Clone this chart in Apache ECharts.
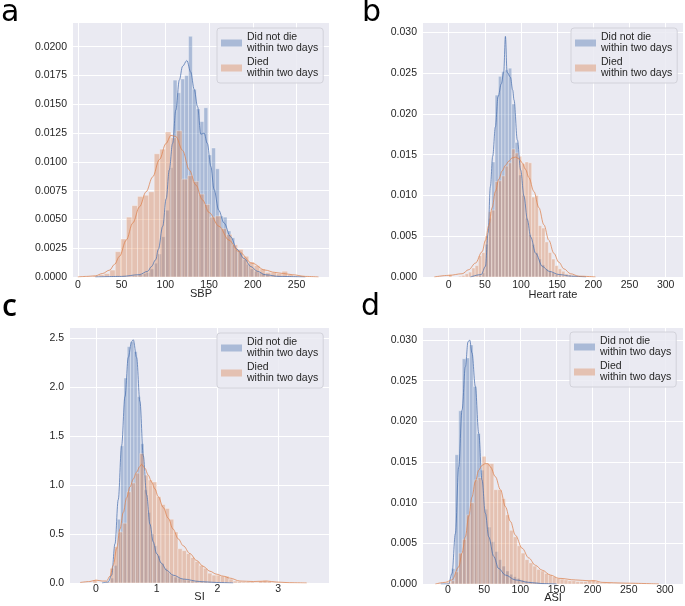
<!DOCTYPE html>
<html><head><meta charset="utf-8">
<script src="https://cdn.jsdelivr.net/npm/echarts@6/dist/echarts.min.js"></script>
<style>html,body{margin:0;padding:0;background:#fff}#c{width:685px;height:606px}</style>
</head><body><div id="c"></div>
<script>
// ---------- labels ----------
const legendNames = ['Did not die\nwithin two days', 'Died\nwithin two days'];
const axisNames = ['SBP', 'Heart rate', 'SI', 'ASI'];
const panelLetters = ['a', 'b', 'c', 'd'];

// ---------- tick values ----------
const aXTicks = [0, 50, 100, 150, 200, 250];
const aYTicks = [0, 0.0025, 0.005, 0.0075, 0.01, 0.0125, 0.015, 0.0175, 0.02];
const bXTicks = [0, 50, 100, 150, 200, 250, 300];
const bYTicks = [0, 0.005, 0.01, 0.015, 0.02, 0.025, 0.03];
const cXTicks = [0, 1, 2, 3];
const cYTicks = [0, 0.5, 1, 1.5, 2, 2.5];
const dXTicks = [0, 50, 100, 150, 200, 250, 300];
const dYTicks = [0, 0.005, 0.01, 0.015, 0.02, 0.025, 0.03];

// ---------- panel a : SBP ----------
const aBlueBinStart = 42.9, aBlueBinWidth = 4.4;
const aBlueHeights = [0.00003,0,0.00005,0.00005,0.0001,0.0001,0.0002,0.0003,0.0004,0.0007,0.0012,0.0020,0.0035,0.0058,0.0095,0.0171,0.0160,0.0172,0.0175,0.0209,0.0163,0.0146,0.0135,0.0147,0.0106,0.0112,0.0094,0.0053,0.0052,0.0040,0.0034,0.0024,0.0021,0.0015,0.0011,0.0007,0.0005,0.0004,0.0003,0.0002,0.0001,0.0001,0.0001,0.00005,0.00005,0.00003,0.00003,0,0.00003];
const aOrangeBinStart = 17.45, aOrangeBinWidth = 6.35;
const aOrangeHeights = [0.0001,0.0002,0.0003,0.0006,0.0022,0.0033,0.0052,0.0062,0.0070,0.0071,0.0074,0.0107,0.0111,0.0126,0.0121,0.0127,0.0085,0.0088,0.0083,0.0072,0.0063,0.0052,0.0053,0.0042,0.0037,0.0028,0.0024,0.0018,0.0013,0.0010,0.0007,0.0004,0.0004,0.0003,0.0005,0.0002,0.0001,0.0001];
const aBlueKde = [[20,0],[50,0.00005],[70,0.0002],[80,0.0005],[84,0.0009],[89,0.0015],[92,0.0024],[97,0.0044],[101,0.0068],[104.5,0.0093],[108.3,0.0116],[112,0.0145],[116,0.0171],[119.7,0.0183],[124.6,0.0188],[129,0.0178],[133,0.0163],[136.8,0.0148],[140.6,0.0124],[144.3,0.0125],[148,0.0116],[152,0.0096],[155.7,0.0076],[161,0.0058],[167,0.0047],[174.6,0.0035],[182,0.0024],[190,0.0016],[198,0.0009],[205,0.0005],[214,0.0002],[230,0.00005],[260,0]];
const aOrangeKde = [[0,0],[10,0.00005],[20,0.0001],[28,0.0003],[36.4,0.0006],[42,0.0011],[47.7,0.0018],[55.3,0.0032],[62.9,0.0047],[70.5,0.0061],[78,0.0074],[85.6,0.0087],[93.2,0.0102],[100.8,0.0116],[106.4,0.0123],[112,0.0122],[119.7,0.0110],[127.3,0.0093],[134.8,0.0080],[142.4,0.0067],[150,0.0056],[161.4,0.0044],[172.7,0.0032],[184,0.0022],[199,0.0012],[214,0.0006],[225,0.0004],[235,0.0003],[245,0.0002],[260,0.00005],[275,0]];

// ---------- panel b : Heart rate ----------
const bBlueBinStart = 41.1, bBlueBinWidth = 4.6;
const bBlueHeights = [0.0002,0.0005,0.0040,0.0072,0.0141,0.0223,0.0246,0.0252,0.0254,0.0256,0.0212,0.0165,0.0125,0.0100,0.0072,0.0052,0.0040,0.0030,0.0022,0.0015,0.0010,0.0007,0.0005,0.0003,0.0002,0.0001,0.0001,0.00005,0.00005];
const bOrangeBinStart = -0.3, bOrangeBinWidth = 4.6;
const bOrangeHeights = [0.0003,0,0,0.0001,0.0002,0.0004,0.0006,0.0011,0.0014,0.0026,0.0030,0.0050,0.0080,0.0082,0.0117,0.0118,0.0124,0.0136,0.0140,0.0157,0.0152,0.0148,0.0139,0.0141,0.0140,0.0098,0.0100,0.0063,0.0060,0.0043,0.0030,0.0022,0.0014,0.0010,0.0007,0.0004,0.0003,0.0002,0.0001,0.0001,0.00005,0,0.00005,0.00003];
const bBlueKde = [[30,0],[45,0.0003],[50.7,0.0013],[54.4,0.0054],[57.6,0.0111],[60.8,0.0148],[64.5,0.0184],[68.2,0.0221],[72.8,0.0237],[76,0.0251],[78.4,0.0295],[80.7,0.0251],[85.3,0.0245],[88.5,0.0229],[90.3,0.0217],[94.9,0.0168],[99.5,0.0131],[104.1,0.0099],[108.8,0.0070],[113.4,0.0049],[120.3,0.0029],[129.5,0.0013],[138.7,0.0007],[152.6,0.0003],[170,0.0001],[190,0]];
const bOrangeKde = [[-20,0],[0,0.0002],[18.5,0.0004],[27.7,0.0009],[36.9,0.0017],[46.2,0.0031],[50.8,0.0045],[55.4,0.0063],[60,0.0085],[64.6,0.0105],[69.3,0.0120],[73.9,0.0130],[78.5,0.0137],[83.1,0.0142],[87.7,0.0146],[92.3,0.0147],[97,0.0145],[101.6,0.0140],[106.2,0.0132],[110.8,0.0122],[117.7,0.0105],[124.7,0.0085],[131.6,0.0064],[138.5,0.0045],[145.4,0.0029],[152.4,0.0018],[159.3,0.0010],[168.5,0.0004],[180,0.0001],[203,0]];

// ---------- panel c : SI ----------
const cBlueBinStart = 0.13, cBlueBinWidth = 0.055;
const cBlueHeights = [0.003,0.01,0.05,0.18,0.65,1.40,2.09,2.41,2.46,2.36,1.90,1.42,0.95,0.72,0.50,0.38,0.28,0.20,0.15,0.11,0.08,0.06,0.05,0.04,0.03,0.025,0.02,0.015,0.01,0.01,0.008,0.006,0.005,0.004];
const cOrangeBinStart = -0.05, cOrangeBinWidth = 0.07;
const cOrangeHeights = [0.03,0,0,0.01,0.15,0.37,0.52,0.61,0.93,1.02,1.12,1.32,1.10,1.05,1.03,0.88,0.80,0.76,0.65,0.52,0.35,0.33,0.30,0.26,0.22,0.18,0.15,0.10,0.08,0.08,0.07,0.07,0.04,0.02,0.015,0.01,0.01,0.01,0.005,0.02,0.025,0.015,0.005,0.003,0,0,0.003,0,0,0,0.002];
const cBlueKde = [[0.1,0],[0.2,0.01],[0.258,0.08],[0.313,0.4],[0.367,0.85],[0.422,1.4],[0.477,1.9],[0.532,2.3],[0.587,2.46],[0.614,2.48],[0.669,2.3],[0.724,1.85],[0.779,1.3],[0.834,0.9],[0.889,0.6],[0.943,0.42],[0.998,0.3],[1.08,0.2],[1.163,0.13],[1.27,0.08],[1.437,0.04],[1.71,0.015],[1.99,0.005],[2.26,0]];
const cOrangeKde = [[-0.26,0.005],[-0.1,0.015],[0,0.03],[0.1,0.02],[0.176,0.02],[0.23,0.07],[0.285,0.18],[0.34,0.35],[0.395,0.55],[0.45,0.72],[0.505,0.87],[0.56,0.98],[0.614,1.06],[0.669,1.13],[0.724,1.19],[0.75,1.21],[0.806,1.17],[0.86,1.10],[0.916,1.03],[0.97,0.96],[1.026,0.88],[1.108,0.77],[1.19,0.66],[1.27,0.55],[1.355,0.45],[1.437,0.38],[1.547,0.30],[1.657,0.23],[1.766,0.17],[1.876,0.12],[1.986,0.09],[2.095,0.07],[2.205,0.05],[2.37,0.02],[2.59,0.015],[2.81,0.02],[2.97,0.01],[3.19,0.003],[3.47,0]];

// ---------- panel d : ASI ----------
const dBlueBinStart = 4.7, dBlueBinWidth = 5;
const dBlueHeights = [0.0019,0.0159,0.0213,0.0277,0.0278,0.0294,0.0243,0.0185,0.0140,0.0092,0.0070,0.0052,0.0040,0.0030,0.0022,0.0016,0.0012,0.0009,0.0007,0.0005,0.0004,0.0003,0.0002,0.0002,0.0001,0.0001,0.0001,0.00005,0.00005];
const dOrangeBinStart = -1.5, dOrangeBinWidth = 5.4;
const dOrangeHeights = [0.0002,0.0004,0.0015,0.0038,0.0055,0.0085,0.0100,0.0128,0.0131,0.0157,0.0148,0.0148,0.0116,0.0116,0.0105,0.0085,0.0066,0.0058,0.0047,0.0038,0.0030,0.0026,0.0022,0.0018,0.0016,0.0013,0.0011,0.0009,0.0007,0.0006,0.0005,0.0004,0.0004,0.0003,0.0003,0.0003,0.0004,0.0005,0.0003,0.0001,0.0001,0.0001,0.00005,0.00005,0.00003,0.00003,0,0.00002,0.00002];
const dBlueKde = [[-10,0],[0.9,0],[5.5,0.0013],[10.2,0.0062],[14.8,0.0144],[19.4,0.0214],[24,0.0267],[27.7,0.0298],[30,0.0300],[33.2,0.0284],[37.8,0.0243],[42.5,0.0185],[47,0.0128],[51.7,0.0087],[56.3,0.0058],[63.2,0.0034],[70,0.0019],[79.4,0.0011],[93.2,0.0005],[111.7,0.0002],[130,0.00005],[150,0]];
const dOrangeKde = [[-17.5,0],[-3.7,0.0002],[5.5,0.0005],[14.8,0.0021],[19.4,0.0038],[24,0.0058],[28.6,0.0083],[33.2,0.0107],[37.8,0.0126],[42.5,0.0140],[47.1,0.0146],[51.7,0.0148],[55.5,0.0148],[58.6,0.0144],[65.5,0.0132],[72.5,0.0116],[79.4,0.0095],[86.3,0.0077],[93.2,0.0060],[102.5,0.0044],[111.7,0.0032],[120.9,0.0023],[130.2,0.0017],[141.7,0.0011],[153.2,0.0007],[176.3,0.0005],[194.8,0.0004],[203,0.0004],[213,0.0002],[245.5,0.0001],[291.7,0]];

// ---------- styling / layout ----------
const FONT = '"Liberation Sans", Arial, sans-serif';
const TXT = '#262626';
const BLUE = '#4C72B0', ORANGE = '#DD8452';
const BLUE_FILL = 'rgba(76,114,176,0.4)', ORANGE_FILL = 'rgba(221,132,82,0.4)';

const panels = [
  {grid:{left:73,top:23,width:256,height:254}, x:[-5.5,287], y:[0,0.02206], xt:aXTicks, yt:aYTicks, dec:4, nameGap:11, lm:3,
   blue:[aBlueBinStart,aBlueBinWidth,aBlueHeights], orange:[aOrangeBinStart,aOrangeBinWidth,aOrangeHeights], bk:aBlueKde, ok:aOrangeKde, leg:{left:217,top:28}},
  {grid:{left:423,top:23,width:260,height:254}, x:[-35.6,324], y:[0,0.03114], xt:bXTicks, yt:bYTicks, dec:3, nameGap:12, lm:3,
   blue:[bBlueBinStart,bBlueBinWidth,bBlueHeights], orange:[bOrangeBinStart,bOrangeBinWidth,bOrangeHeights], bk:bBlueKde, ok:bOrangeKde, leg:{left:571,top:28}},
  {grid:{left:70,top:328,width:259,height:255}, x:[-0.428,3.838], y:[0,2.6], xt:cXTicks, yt:cYTicks, dec:1, nameGap:8, lm:1,
   blue:[cBlueBinStart,cBlueBinWidth,cBlueHeights], orange:[cOrangeBinStart,cOrangeBinWidth,cOrangeHeights], bk:cBlueKde, ok:cOrangeKde, leg:{left:217,top:333}},
  {grid:{left:423,top:328,width:260,height:256}, x:[-34.6,325], y:[0,0.03148], xt:dXTicks, yt:dYTicks, dec:3, nameGap:8, lm:1,
   blue:[dBlueBinStart,dBlueBinWidth,dBlueHeights], orange:[dOrangeBinStart,dOrangeBinWidth,dOrangeHeights], bk:dBlueKde, ok:dOrangeKde, leg:{left:570,top:332}}
];

function histData(start, width, heights) {
  return heights.map((h, i) => [start + i * width, start + (i + 1) * width, h]);
}
function histRender(fill) {
  return function (params, api) {
    const p0 = api.coord([api.value(0), api.value(2)]);
    const p1 = api.coord([api.value(1), 0]);
    return {
      type: 'rect',
      shape: {x: p0[0], y: p0[1], width: p1[0] - p0[0], height: p1[1] - p0[1]},
      style: {fill: fill, stroke: 'rgba(255,255,255,0.45)', lineWidth: 0.7}
    };
  };
}

const option = {
  animation: false,
  backgroundColor: '#ffffff',
  grid: [], xAxis: [], yAxis: [], series: [], legend: [],
  graphic: []
};

panels.forEach((p, i) => {
  option.grid.push(Object.assign({show:true, backgroundColor:'#EAEAF2', borderWidth:0, containLabel:false, outerBoundsMode:'none'}, p.grid));
  option.xAxis.push({
    type:'value', gridIndex:i, min:p.x[0], max:p.x[1],
    name: axisNames[i], nameLocation:'middle', nameGap:p.nameGap, nameMoveOverlap:false,
    nameTextStyle:{fontSize:11, color:TXT, fontFamily:FONT},
    axisLine:{show:false}, axisTick:{show:false, customValues:p.xt},
    axisLabel:{customValues:p.xt, fontSize:10.5, color:TXT, margin:p.lm, fontFamily:FONT, formatter: v => String(v)},
    splitLine:{show:true, lineStyle:{color:'#ffffff', width:1}}
  });
  option.yAxis.push({
    type:'value', gridIndex:i, min:p.y[0], max:p.y[1],
    axisLine:{show:false}, axisTick:{show:false, customValues:p.yt},
    axisLabel:{customValues:p.yt, fontSize:10.5, color:TXT, margin:6, fontFamily:FONT, formatter: v => Number(v).toFixed(p.dec)},
    splitLine:{show:true, lineStyle:{color:'#ffffff', width:1}}
  });
  option.series.push({
    type:'custom', name:legendNames[0], xAxisIndex:i, yAxisIndex:i,
    data: histData(p.blue[0], p.blue[1], p.blue[2]), encode:{x:[0,1], y:2},
    itemStyle:{color:BLUE_FILL}, renderItem: histRender(BLUE_FILL), silent:true
  });
  option.series.push({
    type:'line', name:'kde-blue-' + i, xAxisIndex:i, yAxisIndex:i, data:p.bk,
    symbol:'none', smooth:0.35, smoothMonotone:'x', lineStyle:{color:BLUE, width:0.9, opacity:0.85}, itemStyle:{color:BLUE}, silent:true
  });
  option.series.push({
    type:'custom', name:legendNames[1], xAxisIndex:i, yAxisIndex:i,
    data: histData(p.orange[0], p.orange[1], p.orange[2]), encode:{x:[0,1], y:2},
    itemStyle:{color:ORANGE_FILL}, renderItem: histRender(ORANGE_FILL), silent:true
  });
  option.series.push({
    type:'line', name:'kde-orange-' + i, xAxisIndex:i, yAxisIndex:i, data:p.ok,
    symbol:'none', smooth:0.35, smoothMonotone:'x', lineStyle:{color:ORANGE, width:0.9, opacity:0.85}, itemStyle:{color:ORANGE}, silent:true
  });
  option.legend.push({
    show:true, orient:'vertical', left:p.leg.left, top:p.leg.top,
    data: legendNames.map(n => ({name:n, icon:'rect'})),
    itemWidth:21, itemHeight:7, itemGap:3, padding:[4,5,4,4],
    backgroundColor:'rgba(234,234,242,0.85)', borderColor:'#d2d2da', borderWidth:1, borderRadius:3,
    textStyle:{fontSize:10.5, lineHeight:11, color:TXT, fontFamily:FONT}, selectedMode:false
  });
});

const letterPos = [[1,-2,'normal','"DejaVu Sans"'],[362,-2,'normal','"DejaVu Sans"'],[2,292,'600','"Open Sans"'],[361,292,'normal','"DejaVu Sans"']];
panelLetters.forEach((t, i) => {
  option.graphic.push({
    type:'text', left:letterPos[i][0], top:letterPos[i][1],
    style:{text:t, fill:'#000', font: letterPos[i][2] + ' 30px ' + letterPos[i][3] + ', sans-serif'}
  });
});

const chart = echarts.init(document.getElementById('c'), null, {renderer:'canvas'});
chart.setOption(option);
</script></body></html>
